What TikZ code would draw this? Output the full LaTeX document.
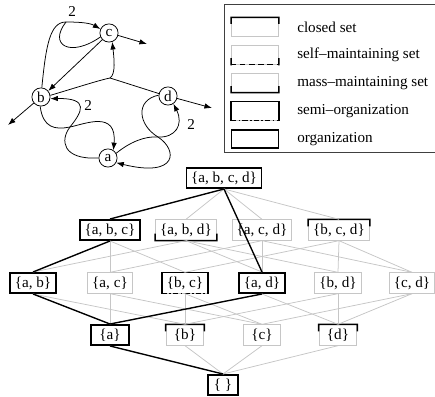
\documentclass[tikz,border=0pt]{standalone}
\usepackage{fontspec}
\setmainfont{Liberation Serif}
\usetikzlibrary{arrows.meta,calc}

\tikzset{
  species/.style={circle, draw, line width=.5pt, inner sep=0pt, minimum size=12pt},
  react/.style={line width=.5pt, -{Latex[length=5pt,width=3.6pt]}},
  reactline/.style={line width=.5pt},
  setbox/.style={draw=gray!45, line width=.6pt, inner xsep=3pt, inner ysep=0pt,
    minimum height=13.5pt, minimum width=25pt},
  markline/.style={black, line width=1pt, line cap=rect},
  dashline/.style={black, line width=1pt, dash pattern=on 3.5pt off 2.5pt},
  dotline/.style={black, line width=1pt, dash pattern=on 3.5pt off 1.5pt on 1pt off 1.5pt},
  hasse/.style={gray!45, line width=.5pt},
  orgline/.style={black, line width=.9pt},
  orgset/.style={setbox, draw=black, line width=1pt},
  legendsample/.style={setbox, minimum width=31pt, minimum height=12pt, inner sep=0pt},
  legendtext/.style={anchor=west, inner sep=0pt},
}
% black parts of a set's frame
\newcommand{\markclosed}[1]{%
  \draw[markline] ($(#1.north west)!.3!(#1.south west)$) -- (#1.north west)
    -- (#1.north east) -- ($(#1.north east)!.3!(#1.south east)$);}
\newcommand{\markmassmaint}[1]{%
  \draw[markline] ($(#1.south west)!.3!(#1.north west)$) -- (#1.south west)
    -- (#1.south east) -- ($(#1.south east)!.3!(#1.north east)$);}
\newcommand{\markselfmaint}[1]{%
  \draw[markline] ($(#1.south west)!.3!(#1.north west)$) -- (#1.south west);
  \draw[markline] ($(#1.south east)!.3!(#1.north east)$) -- (#1.south east);
  \draw[dashline] (#1.south west) -- (#1.south east);}
\newcommand{\marksemiorg}[1]{%
  \draw[markline] (#1.south west) -- (#1.north west) -- (#1.north east) -- (#1.south east);
  \draw[dotline] (#1.south west) -- (#1.south east);}

\begin{document}
\begin{tikzpicture}[x=0.66pt, y=-0.66pt]
  \useasboundingbox (0,0) rectangle (435,397);

  % reaction network
  \node[species] (c) at (109,33) {c};
  \node[species] (b) at (41,97) {b};
  \node[species] (d) at (168,96) {d};
  \node[species] (a) at (108,158) {a};

  \coordinate (j1) at (66,22);
  \draw[reactline] (b.85) .. controls (46,45) and (50,22) .. (j1);
  \draw[reactline] (c.205) .. controls (70,58) and (48,45) .. (j1);
  \draw[react] (j1) .. controls (80,22) and (90,23) .. node[pos=.15, above] {2} (c.155);

  \draw[react] (c.225) -- (b.40);

  \coordinate (j2) at (110,78);
  \draw[react] (b.10) .. controls (75,88) and (100,80) .. (j2)
    .. controls (116,74) and (114,58) .. (c.-70);
  \draw[reactline] (d.165) -- (j2);

  \coordinate (cout) at (147,44);
  \coordinate (dout) at (212,108);
  \coordinate (bout) at (8,125);
  \draw[react] (c.-15) -- (cout);
  \draw[react] (d.-15) -- (dout);
  \draw[react] (b.-140) -- (bout);

  \coordinate (x1) at (70,127);
  \draw[react] (b.-95) .. controls (43,128) and (55,130) .. (x1)
    .. controls (85,124) and (117,110) .. (a.55);
  \draw[react] (a.180) .. controls (62,160) and (60,140) .. (x1)
    .. controls (82,112) and (90,98) .. node[pos=.55, right] {2} (b.-10);

  \coordinate (x2) at (158,137);
  \draw[react] (d.175) .. controls (135,100) and (138,125) .. (x2)
    .. controls (178,150) and (178,178) .. (a.-30);
  \draw[react] (a.30) .. controls (130,142) and (145,136) .. (x2)
    .. controls (175,138) and (184,125) .. node[pos=.6, right=3pt] {2} (d.-55);

  % legend
  \draw[black!75, line width=.6pt] (224,4) rectangle (445,152);
  \node[legendsample] (k-closed) at (255,27) {};
  \node[legendsample] (k-self) at (255,55) {};
  \node[legendsample] (k-mass) at (255,83) {};
  \node[legendsample] (k-semi) at (255,111) {};
  \node[legendsample, draw=black, line width=1pt] (k-org) at (255,139) {};
  \markclosed{k-closed}
  \markselfmaint{k-self}
  \markmassmaint{k-mass}
  \marksemiorg{k-semi}
  \node[legendtext] (t-closed) at (297,27) {closed set};
  \node[legendtext] (t-self) at (297,55) {self--maintaining set};
  \node[legendtext] (t-mass) at (297,83) {mass--maintaining set};
  \node[legendtext] (t-semi) at (297,111) {semi--organization};
  \node[legendtext] (t-org) at (297,139) {organization};

  % lattice of sets
  \node[orgset] (s-abcd) at (224,178) {\{a, b, c, d\}};
  \node[orgset] (s-abc) at (110,230) {\{a, b, c\}};
  \node[setbox] (s-abd) at (186,230) {\{a, b, d\}};
  \node[setbox] (s-acd) at (262,230) {\{a, c, d\}};
  \node[setbox] (s-bcd) at (339,230) {\{b, c, d\}};
  \node[orgset] (s-ab) at (33,283) {\{a, b\}};
  \node[setbox] (s-ac) at (110,283) {\{a, c\}};
  \node[setbox] (s-bc) at (185,283) {\{b, c\}};
  \node[orgset] (s-ad) at (262,283) {\{a, d\}};
  \node[setbox] (s-bd) at (338,283) {\{b, d\}};
  \node[setbox] (s-cd) at (412,283) {\{c, d\}};
  \node[orgset] (s-a) at (110,335) {\{a\}};
  \node[setbox] (s-b) at (185,335) {\{b\}};
  \node[setbox] (s-c) at (262,335) {\{c\}};
  \node[setbox] (s-d) at (338,335) {\{d\}};
  \node[orgset, minimum width=20pt] (s-e) at (223,385) {\{\ \}};
  \markmassmaint{s-abd}
  \markclosed{s-bcd}
  \marksemiorg{s-bc}
  \markclosed{s-b}
  \markclosed{s-d}

  \foreach \u/\l in {abcd/abc, abcd/abd, abcd/acd, abcd/bcd, abc/ab, abc/ac, abc/bc,
      abd/ab, abd/ad, abd/bd, acd/ac, acd/ad, acd/cd, bcd/bc, bcd/bd, bcd/cd,
      ab/a, ab/b, ac/a, ac/c, bc/b, bc/c, ad/a, ad/d, bd/b, bd/d, cd/c, cd/d,
      a/e, b/e, c/e, d/e}
    \draw[hasse] (s-\u.south) -- (s-\l.north);
  \foreach \u/\l in {abcd/abc, abcd/ad, abc/ab, ab/a, ad/a, a/e}
    \draw[orgline] (s-\u.south) -- (s-\l.north);
\end{tikzpicture}
\end{document}
